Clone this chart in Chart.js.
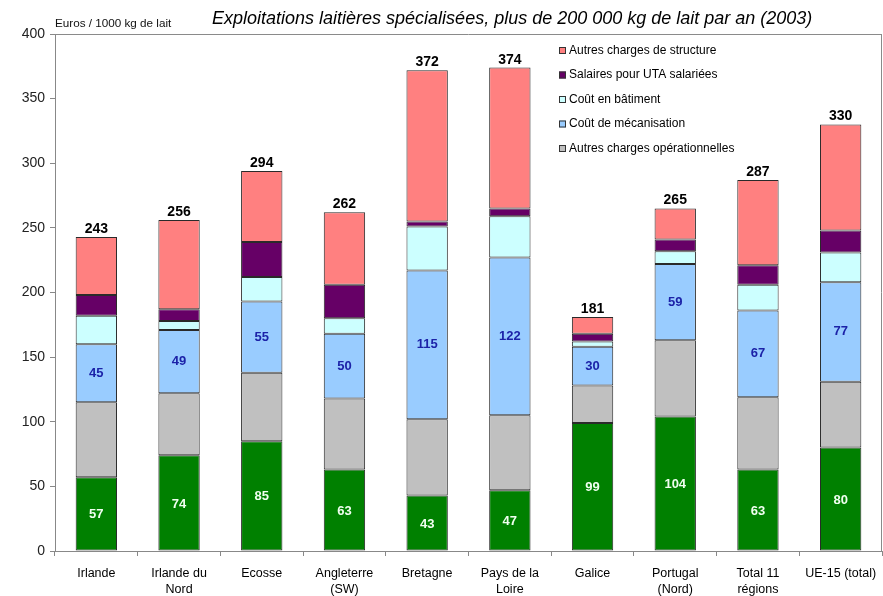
<!DOCTYPE html>
<html>
<head>
<meta charset="utf-8">
<script src="https://cdn.jsdelivr.net/npm/chart.js@4/dist/chart.umd.min.js"></script>
<style>
html,body{margin:0;padding:0;background:#fff;}
canvas{display:block;}
</style>
</head>
<body>
<canvas id="c" width="883" height="596"></canvas>
<script>
const categories = [['Irlande'], ['Irlande du','Nord'], ['Ecosse'], ['Angleterre','(SW)'], ['Bretagne'], ['Pays de la','Loire'], ['Galice'], ['Portugal','(Nord)'], ['Total 11','régions'], ['UE-15 (total)']];
const greenValues  = [57, 74, 85, 63, 43, 47, 99, 104, 63, 80];
const autresOp     = [58, 48, 53, 55, 59, 58, 29, 59, 56, 51];
const mecanisation = [45, 49, 55, 50, 115, 122, 30, 59, 67, 77];
const batiment     = [22, 7, 19, 12, 34, 32, 4, 10, 20, 23];
const salaires     = [16, 9, 27, 26, 4, 6, 6, 9, 15, 17];
const structure    = [45, 69, 55, 56, 117, 109, 13, 24, 66, 82];
const totals       = [243, 256, 294, 262, 372, 374, 181, 265, 287, 330];
const yTicks       = [0, 50, 100, 150, 200, 250, 300, 350, 400];
const titleText = 'Exploitations laitières spécialisées, plus de 200 000 kg de lait par an (2003)';
const unitText = 'Euros / 1000 kg de lait';
const legendLabels = ['Autres charges de structure', 'Salaires pour UTA salariées', 'Coût en bâtiment', 'Coût de mécanisation', 'Autres charges opérationnelles'];

const FONT = '"Liberation Sans", Arial, sans-serif';
const colors = {
  green: '#008000', gray: '#C0C0C0', blue: '#99CCFF', cyan: '#CCFFFF', purple: '#660066', pink: '#FF8080'
};
function ds(label, data, color) {
  return { label, data, backgroundColor: color, borderColor: '#2a2a2a', borderWidth: 1, borderSkipped: false,
           barPercentage: 0.5, categoryPercentage: 1.0 };
}
const datasets = [
  ds('', greenValues, colors.green),
  ds(legendLabels[4], autresOp, colors.gray),
  ds(legendLabels[3], mecanisation, colors.blue),
  ds(legendLabels[2], batiment, colors.cyan),
  ds(legendLabels[1], salaires, colors.purple),
  ds(legendLabels[0], structure, colors.pink)
];

const decor = {
  id: 'decor',
  beforeDatasetsDraw(chart) {
    const {ctx, chartArea: a} = chart;
    ctx.save();
    ctx.strokeStyle = '#8a8a8a';
    ctx.lineWidth = 1;
    ctx.beginPath();
    ctx.moveTo(a.left, a.top + 0.5); ctx.lineTo(a.right, a.top + 0.5);
    ctx.moveTo(a.right - 0.5, a.top); ctx.lineTo(a.right - 0.5, a.bottom);
    ctx.stroke();
    ctx.restore();
  },
  afterDatasetsDraw(chart) {
    const {ctx} = chart;
    ctx.save();
    ctx.textAlign = 'center';
    ctx.textBaseline = 'middle';
    const mg = chart.getDatasetMeta(0);
    ctx.font = 'bold 13px ' + FONT;
    ctx.fillStyle = '#F0FFF0';
    mg.data.forEach((b, i) => { ctx.fillText(String(greenValues[i]), b.x, (b.y + b.base) / 2 + 1); });
    const mb = chart.getDatasetMeta(2);
    ctx.fillStyle = '#1C22A8';
    mb.data.forEach((b, i) => { ctx.fillText(String(mecanisation[i]), b.x, (b.y + b.base) / 2); });
    const mt = chart.getDatasetMeta(5);
    ctx.font = 'bold 14px ' + FONT;
    ctx.fillStyle = '#000';
    ctx.textBaseline = 'alphabetic';
    mt.data.forEach((b, i) => { ctx.fillText(String(totals[i]), b.x, b.y - 4); });
    ctx.restore();
  },
  afterDraw(chart) {
    const {ctx} = chart;
    ctx.save();
    ctx.font = 'italic 18px ' + FONT;
    ctx.fillStyle = '#000';
    ctx.textAlign = 'left';
    ctx.textBaseline = 'alphabetic';
    ctx.fillText(titleText, 212, 24);
    ctx.font = '11.7px ' + FONT;
    ctx.fillStyle = '#111';
    ctx.fillText(unitText, 55, 27);
    const legendColors = [colors.pink, colors.purple, colors.cyan, colors.blue, colors.gray];
    const ys = [50.5, 75, 99.5, 124, 148.5];
    ctx.font = '12px ' + FONT;
    ctx.textBaseline = 'middle';
    legendLabels.forEach((t, i) => {
      ctx.fillStyle = legendColors[i];
      ctx.fillRect(559, ys[i] - 3.5, 7, 7);
      ctx.strokeStyle = '#333';
      ctx.lineWidth = 1;
      ctx.strokeRect(559.5, ys[i] - 3, 6, 6);
      ctx.fillStyle = '#000';
      ctx.fillText(t, 569, ys[i]);
    });
    ctx.restore();
  }
};

new Chart(document.getElementById('c'), {
  type: 'bar',
  data: { labels: categories, datasets },
  options: {
    responsive: false,
    animation: false,
    layout: { padding: { top: 34, right: 0, left: 0, bottom: 0 } },
    plugins: { legend: { display: false }, title: { display: false }, tooltip: { enabled: false } },
    scales: {
      x: {
        stacked: true,
        grid: { offset: true, drawOnChartArea: false, tickLength: 5, color: '#888' },
        border: { color: '#888' },
        ticks: { font: { family: FONT, size: 12.5, lineHeight: 1.3 }, color: '#000', padding: 9, maxRotation: 0, autoSkip: false },
        afterFit(s) { s.height = 45; s.paddingLeft = 0; s.paddingRight = 1; }
      },
      y: {
        stacked: true,
        min: 0, max: 400,
        afterBuildTicks(s) { s.ticks = yTicks.map(v => ({ value: v })); },
        grid: { drawOnChartArea: false, tickLength: 5, color: '#888' },
        border: { color: '#888' },
        ticks: { font: { family: FONT, size: 14 }, color: '#222', padding: 5 },
        afterFit(s) { s.width = 55; }
      }
    }
  },
  plugins: [decor]
});
</script>
</body>
</html>
